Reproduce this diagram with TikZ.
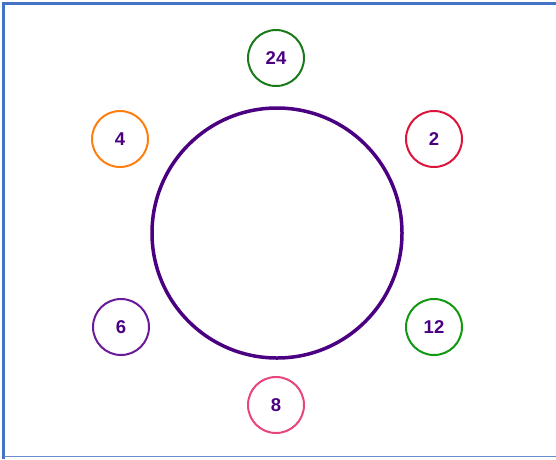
\documentclass[tikz,border=0pt]{standalone}
\usepackage{fontspec}
\setmainfont{Liberation Sans}
\definecolor{frameblue}{HTML}{4472C4}
\definecolor{txtpurple}{HTML}{4B0082}
\definecolor{bigpurple}{HTML}{4B0082}
\definecolor{cdkgreen}{HTML}{1A7A1A}
\definecolor{corange}{HTML}{FF7F0E}
\definecolor{ccrimson}{HTML}{DC143C}
\definecolor{cpurple}{HTML}{6A1B9A}
\definecolor{cgreen}{HTML}{119911}
\definecolor{cpink}{HTML}{E8457A}
\begin{document}
\begin{tikzpicture}[x=1pt,y=-1pt,
  numnode/.style={circle, draw, line width=2pt, minimum size=56pt, inner sep=0pt,
    text=txtpurple, font=\fontsize{18.5}{21}\selectfont\bfseries}]
\useasboundingbox (0,0) rectangle (556,459);
\fill[white] (0,0) rectangle (556,459);
\draw[frameblue, line width=3pt] (3.5,459) -- (3.5,3) -- (556,3);
\draw[frameblue!80, line width=1.2pt] (3.5,456.5) -- (556,456.5);
\node[circle, draw=bigpurple, line width=3.5pt, minimum size=250pt, inner sep=0pt] (big) at (277,233) {};
\node[numnode, draw=cdkgreen] (n24) at (276,58) {24};
\node[numnode, draw=corange] (n4) at (120,139) {4};
\node[numnode, draw=ccrimson] (n2) at (434,139) {2};
\node[numnode, draw=cpurple] (n6) at (121,327) {6};
\node[numnode, draw=cgreen] (n12) at (434,327) {12};
\node[numnode, draw=cpink] (n8) at (276,405) {8};
\end{tikzpicture}
\end{document}
